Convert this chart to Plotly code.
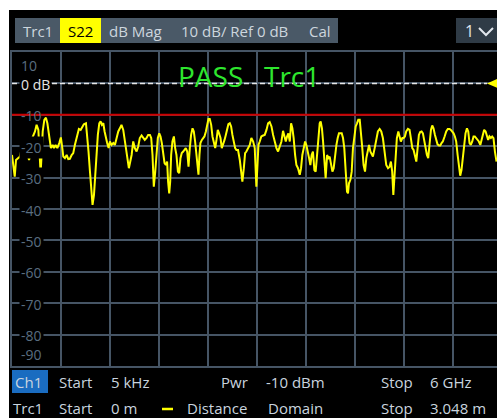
import plotly.graph_objects as go

# ---- figure geometry (pixels) ----
W, H = 497, 418
L, R, T, B = 12, 0, 52, 52
PW = W - L - R
PH = H - T - B


def px(x_pix):
    """pixel column -> paper x"""
    return (x_pix - L) / PW


def py(y_pix):
    """pixel row (from top) -> paper y"""
    return (H - B - y_pix) / PH


# ---- trace data: S22 distance-domain magnitude ----
distance_m = [
    0.000, 0.008, 0.017, 0.025, 0.037, 0.050, 0.058, 0.070, 0.083, 0.095,
    0.106, 0.116, 0.126, 0.143, 0.153, 0.164, 0.170, 0.178, 0.184, 0.191,
    0.201, 0.211, 0.220, 0.228, 0.236, 0.242, 0.253, 0.261, 0.271, 0.282,
    0.294, 0.304, 0.313, 0.319, 0.329, 0.340, 0.350, 0.360, 0.371, 0.381,
    0.391, 0.402, 0.408, 0.416, 0.427, 0.437, 0.447, 0.460, 0.468, 0.476,
    0.485, 0.493, 0.501, 0.510, 0.518, 0.526, 0.534, 0.543, 0.551, 0.559,
    0.568, 0.576, 0.584, 0.592, 0.601, 0.609, 0.619, 0.630, 0.640, 0.650,
    0.661, 0.671, 0.681, 0.692, 0.700, 0.708, 0.717, 0.727,
    0.744, 0.754, 0.764, 0.775, 0.785, 0.795, 0.806, 0.816, 0.826, 0.837,
    0.847, 0.858, 0.866, 0.874, 0.882, 0.891, 0.899, 0.907, 0.916, 0.924,
    0.932, 0.940, 0.949, 0.957, 0.965, 0.971, 0.978, 0.984, 0.990, 0.998,
    1.007, 1.015, 1.023, 1.032, 1.040, 1.048, 1.056, 1.065, 1.073, 1.081,
    1.090, 1.098, 1.106, 1.114, 1.123, 1.131, 1.139, 1.148, 1.154, 1.160,
    1.166, 1.172, 1.181, 1.189, 1.197, 1.206, 1.214, 1.222, 1.230, 1.239,
    1.247, 1.255, 1.264, 1.272, 1.280, 1.288, 1.297, 1.305, 1.313, 1.322,
    1.330, 1.338, 1.346, 1.355, 1.363, 1.371, 1.380, 1.388, 1.396, 1.406,
    1.417, 1.425, 1.433, 1.442, 1.450, 1.458, 1.469, 1.479, 1.489,
    1.500, 1.510, 1.516, 1.520, 1.527, 1.533, 1.541, 1.551, 1.562, 1.572,
    1.583, 1.593, 1.603, 1.614, 1.624, 1.634, 1.645, 1.655, 1.665, 1.676,
    1.686, 1.694, 1.703, 1.711, 1.719, 1.728, 1.736, 1.744, 1.752, 1.761,
    1.769, 1.779, 1.790, 1.798, 1.806, 1.815, 1.823, 1.831, 1.839, 1.848,
    1.856, 1.864, 1.872, 1.881, 1.889, 1.897, 1.906, 1.914, 1.920, 1.928,
    1.935, 1.943, 1.951, 1.960, 1.968, 1.976, 1.984, 1.993, 2.001, 2.009,
    2.018, 2.026, 2.034, 2.042, 2.051, 2.059, 2.067, 2.076, 2.084, 2.090,
    2.096, 2.105, 2.113, 2.121, 2.129, 2.138, 2.146, 2.154, 2.163, 2.171,
    2.179, 2.187, 2.196, 2.204, 2.212, 2.221, 2.229,
    2.235, 2.245, 2.256, 2.266, 2.276, 2.287, 2.297, 2.307, 2.318, 2.328,
    2.339, 2.349, 2.357, 2.365, 2.372, 2.378, 2.386, 2.394, 2.403, 2.411,
    2.419, 2.428, 2.436, 2.444, 2.452, 2.463, 2.473, 2.481, 2.490, 2.498,
    2.506, 2.515, 2.523, 2.531, 2.539, 2.548, 2.556, 2.564, 2.573, 2.581,
    2.589, 2.598, 2.606, 2.614, 2.622, 2.631, 2.639, 2.647, 2.656, 2.664,
    2.672, 2.680, 2.691, 2.701, 2.711, 2.722, 2.730, 2.738, 2.747, 2.755,
    2.763, 2.772, 2.780, 2.788, 2.796, 2.805, 2.813, 2.821, 2.830, 2.838,
    2.846, 2.854, 2.863, 2.871, 2.879, 2.888, 2.896, 2.904, 2.913, 2.921,
    2.929, 2.937, 2.946, 2.954, 2.962, 2.970, 2.979, 2.987, 2.995, 3.004,
    3.014,
]

s22_db = [
    -22.8, -26.5, -29.7, -24.4, -23.8, -23.3, -21.2, -19.0, -19.4, -21.7,
    -24.4, -22.2, -17.4, -15.3, -13.2, -14.8, -20.6, -28.6, -22.8, -15.3,
    -11.6, -10.9, -12.7, -15.9, -18.5, -20.6, -19.6, -20.6, -19.6, -20.6,
    -19.0, -17.2, -20.6, -23.3, -23.8, -22.8, -24.1, -24.0, -22.8, -22.2,
    -19.6, -16.9, -15.3, -14.5, -14.8, -13.7, -13.0, -12.7, -16.4, -21.7,
    -28.1, -34.5, -38.7, -35.5, -28.1, -21.7, -16.4, -12.7, -12.1, -13.2,
    -12.7, -15.3, -17.4, -19.0, -20.6, -18.5, -19.6, -19.0, -19.6, -17.4,
    -15.3, -14.3, -13.2, -14.8, -17.4, -20.6, -23.8, -27.0,
    -22.8, -18.5, -20.6, -21.7, -20.1, -17.4, -16.6, -17.4, -18.0, -17.4,
    -16.4, -16.4, -17.4, -22.8, -32.9, -28.1, -20.6, -17.4, -15.9, -16.9,
    -19.0, -22.8, -25.4, -26.0, -24.9, -31.3, -35.0, -31.3, -22.8, -18.5,
    -16.9, -20.6, -22.8, -28.1, -28.6, -23.8, -22.2, -21.7, -21.2, -20.6,
    -21.7, -26.5, -20.6, -16.4, -14.3, -15.3, -18.5, -22.8, -27.0, -29.1,
    -22.8, -19.0, -18.0, -17.4, -16.9, -15.3, -12.7, -11.3, -11.3, -13.2,
    -16.9, -18.5, -20.6, -18.0, -14.8, -15.9, -17.4, -20.6, -19.6, -18.0,
    -16.4, -14.3, -13.0, -12.7, -13.7, -16.4, -19.0, -20.6, -21.2, -21.2,
    -24.4, -28.1, -31.3, -27.0, -22.2, -21.7, -20.6, -19.6, -17.4,
    -18.5, -20.6, -26.0, -32.9, -26.0, -19.6, -18.5, -16.9, -16.6, -16.4,
    -14.8, -12.7, -12.3, -13.7, -16.4, -18.5, -20.6, -21.7, -20.1, -18.5,
    -15.1, -16.4, -18.5, -16.9, -15.9, -18.5, -12.7, -14.3, -17.4, -22.8,
    -26.0, -27.0, -29.1, -27.0, -22.8, -20.6, -18.5, -19.6, -22.2, -23.8,
    -26.0, -22.8, -21.7, -27.6, -28.1, -22.8, -16.4, -12.7, -12.1, -14.3,
    -18.5, -26.0, -30.2, -22.8, -23.8, -23.3, -26.0, -28.1, -27.0, -22.8,
    -19.6, -17.4, -15.9, -15.9, -15.9, -17.4, -20.6, -28.1, -34.5, -35.0,
    -31.8, -30.7, -28.1, -20.6, -17.4, -13.7, -12.7, -11.6, -11.6, -15.3,
    -20.6, -26.0, -28.1, -23.8, -21.7, -19.6, -21.7,
    -22.2, -23.3, -20.6, -17.4, -15.3, -14.5, -15.3, -17.4, -21.7, -26.0,
    -27.0, -26.5, -24.9, -28.1, -35.5, -30.2, -22.8, -17.4, -15.3, -16.9,
    -18.5, -17.4, -17.4, -16.9, -15.3, -14.5, -14.8, -17.4, -20.6, -21.2,
    -22.8, -24.9, -20.6, -16.4, -15.5, -15.3, -15.9, -18.5, -20.6, -22.8,
    -23.8, -18.5, -14.8, -13.4, -14.3, -16.4, -18.5, -19.4, -19.8, -19.8,
    -19.0, -18.5, -16.9, -15.3, -14.5, -14.5, -14.8, -15.3, -15.9, -16.9,
    -18.5, -22.8, -27.0, -29.4, -27.6, -22.8, -18.5, -15.9, -14.3, -15.3,
    -19.0, -19.6, -18.5, -16.9, -16.9, -17.4, -18.0, -18.5, -19.6, -18.0,
    -16.4, -14.8, -15.3, -16.9, -18.0, -16.9, -17.4, -16.9, -17.4, -21.7,
    -24.9,
]

assert len(distance_m) == len(s22_db)

# ---- scale / settings ----
y_tick_values = [10, 0, -10, -20, -30, -40, -50, -60, -70, -80, -90]
y_tick_labels = ["10", "0 dB", "-10", "-20", "-30", "-40", "-50", "-60", "-70", "-80", "-90"]
ref_level_db = 0
limit_db = -10
stop_distance_m = 3.048
x_divisions = 10

header_items = ["Trc1", "S22", "dB Mag", "10 dB/ Ref 0 dB", "Cal"]
status_row1 = ["Ch1", "Start", "5 kHz", "Pwr", "-10 dBm", "Stop", "6 GHz"]
status_row2 = ["Trc1", "Start", "0 m", "Distance", "Domain", "Stop", "3.048 m"]

# ---- colours ----
BG = "#000000"
GRID = "#465565"
AXIS_TXT = "#5a6e80"
HDR_BG = "#4a5967"
HDR_TXT = "#cdd6de"
STATUS_TXT = "#c9d4df"
TRACE = "#ffff00"
LIMIT = "#cc0000"
PASS_GREEN = "#2ee62e"
FONT = "Open Sans"

fig = go.Figure()
fig.add_trace(go.Scatter(
    x=distance_m, y=s22_db, mode="lines",
    line=dict(color=TRACE, width=2),
    hoverinfo="skip", showlegend=False,
))

div_m = stop_distance_m / x_divisions
x_max = stop_distance_m * PW / (PW + 5)

shapes = []
annotations = []

# white frame outside the instrument screen
shapes.append(dict(type="rect", xref="paper", yref="paper",
                   x0=px(0), x1=px(9), y0=py(H), y1=py(0),
                   fillcolor="white", line=dict(width=0), layer="above"))
shapes.append(dict(type="rect", xref="paper", yref="paper",
                   x0=px(0), x1=px(W), y0=py(10), y1=py(0),
                   fillcolor="white", line=dict(width=0), layer="above"))

# limit line
shapes.append(dict(type="line", xref="paper", yref="y",
                   x0=0, x1=1, y0=limit_db, y1=limit_db,
                   line=dict(color=LIMIT, width=2), layer="above"))
# reference level: hide grid, then dashed white line
shapes.append(dict(type="line", xref="paper", yref="y",
                   x0=0, x1=1, y0=ref_level_db, y1=ref_level_db,
                   line=dict(color=BG, width=2.5), layer="below"))
shapes.append(dict(type="line", xref="paper", yref="y",
                   x0=0, x1=px(487), y0=ref_level_db, y1=ref_level_db,
                   line=dict(color="#e8e8e8", width=1.5, dash="5px,3px"), layer="above"))
# reference marker triangle
shapes.append(dict(type="path", xref="paper", yref="y",
                   path=f"M {px(487)} {ref_level_db} L {px(498)} {ref_level_db + 1.5} "
                        f"L {px(498)} {ref_level_db - 1.5} Z",
                   fillcolor=TRACE, line=dict(width=0), layer="above"))

# y-axis labels inside the diagram
for v, lab in zip(y_tick_values, y_tick_labels):
    col = "#e6e6e6" if v == ref_level_db else AXIS_TXT
    if v == y_tick_values[0]:
        ya, ys = "top", -2
    elif v == y_tick_values[-1]:
        ya, ys = "bottom", 0
    else:
        ya, ys = "middle", -1
    annotations.append(dict(
        x=px(19), xref="paper", y=v, yref="y", text=lab,
        xanchor="left", yanchor=ya, yshift=ys, showarrow=False,
        font=dict(family=FONT, size=14, color=col),
        bgcolor=None if v == limit_db else BG, borderpad=1,
    ))

# PASS message
annotations.append(dict(x=px(176), y=py(76), xref="paper", yref="paper",
                        text="PASS", xanchor="left", yanchor="middle", showarrow=False,
                        font=dict(family=FONT, size=28, color=PASS_GREEN)))
annotations.append(dict(x=px(262), y=py(76), xref="paper", yref="paper",
                        text="Trc1", xanchor="left", yanchor="middle", showarrow=False,
                        font=dict(family=FONT, size=28, color=PASS_GREEN)))

# header bar
shapes.append(dict(type="rect", xref="paper", yref="paper",
                   x0=px(15), x1=px(338), y0=py(43), y1=py(18),
                   fillcolor=HDR_BG, line=dict(width=0), layer="above"))
shapes.append(dict(type="rect", xref="paper", yref="paper",
                   x0=px(60), x1=px(101), y0=py(43), y1=py(18),
                   fillcolor="#ffff00", line=dict(width=0), layer="above"))
shapes.append(dict(type="rect", xref="paper", yref="paper",
                   x0=px(456), x1=px(W), y0=py(43), y1=py(18),
                   fillcolor="#2f3b46", line=dict(width=0), layer="above"))
shapes.append(dict(type="path", xref="paper", yref="paper",
                   path=f"M {px(479)} {py(28)} L {px(486)} {py(35)} L {px(493)} {py(28)}",
                   line=dict(color="#e0e6ec", width=2), layer="above"))

hdr_x = [21, 66, 107, 179, 307]
for xp, txt in zip(hdr_x, header_items):
    annotations.append(dict(x=px(xp), y=py(31), xref="paper", yref="paper",
                            text=txt, xanchor="left", yanchor="middle", showarrow=False,
                            font=dict(family=FONT, size=15,
                                      color="#000000" if txt == "S22" else HDR_TXT)))
annotations.append(dict(x=px(463), y=py(31), xref="paper", yref="paper",
                        text="1", xanchor="left", yanchor="middle", showarrow=False,
                        font=dict(family=FONT, size=16, color="#e0e6ec")))

# status lines
shapes.append(dict(type="rect", xref="paper", yref="paper",
                   x0=px(12), x1=px(48), y0=py(393), y1=py(370),
                   fillcolor="#1a6cc0", line=dict(width=0), layer="above"))
row1_x = [13, 57, 109, 219, 264, 379, 428]
for xp, txt in zip(row1_x, status_row1):
    annotations.append(dict(x=px(xp), y=py(382), xref="paper", yref="paper",
                            text=txt, xanchor="left", yanchor="middle", showarrow=False,
                            font=dict(family=FONT, size=15, color=STATUS_TXT)))
shapes.append(dict(type="line", xref="paper", yref="paper",
                   x0=px(162), x1=px(173), y0=py(409), y1=py(409),
                   line=dict(color=TRACE, width=2.5), layer="above"))
row2_x = [11, 57, 109, 185, 266, 379, 428]
for xp, txt in zip(row2_x, status_row2):
    annotations.append(dict(x=px(xp), y=py(408), xref="paper", yref="paper",
                            text=txt, xanchor="left", yanchor="middle", showarrow=False,
                            font=dict(family=FONT, size=15, color=STATUS_TXT)))

fig.update_layout(
    width=W, height=H,
    margin=dict(l=L, r=R, t=T, b=B, pad=0),
    paper_bgcolor=BG, plot_bgcolor=BG,
    showlegend=False,
    shapes=shapes, annotations=annotations,
    font=dict(family=FONT),
)
fig.update_xaxes(range=[0, x_max], tick0=0, dtick=div_m, showticklabels=False,
                 ticks="", showgrid=True, gridcolor=GRID, gridwidth=2, zeroline=False,
                 showline=True, linecolor=GRID, linewidth=2, mirror=True)
fig.update_yaxes(range=[-90, 10], tick0=0, dtick=10, showticklabels=False,
                 ticks="", showgrid=True, gridcolor=GRID, gridwidth=2, zeroline=False,
                 showline=True, linecolor=GRID, linewidth=2, mirror=False)

fig.write_html("out.html")
